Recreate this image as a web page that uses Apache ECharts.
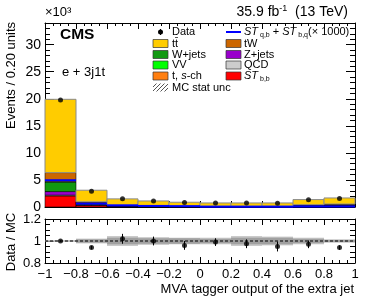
<!DOCTYPE html>
<html><head><meta charset="utf-8">
<script src="https://cdn.jsdelivr.net/npm/echarts@6/dist/echarts.min.js"></script>
<style>html,body{margin:0;padding:0;background:#fff}#c{width:374px;height:307px}</style>
</head><body><div id="c"></div>
<script>
// ---- data (values in units of 10^3 events) ----
const binEdges = [-1, -0.8, -0.6, -0.4, -0.2, 0, 0.2, 0.4, 0.6, 0.8, 1];
const stBB   = [2.05, 0.30, 0.12, 0.08, 0.06, 0.05, 0.05, 0.06, 0.20, 0.30];
const qcd    = [0.15, 0.05, 0.02, 0.02, 0.02, 0.02, 0.02, 0.02, 0.03, 0.03];
const zjets  = [0.65, 0.10, 0.04, 0.03, 0.02, 0.02, 0.02, 0.02, 0.04, 0.05];
const wjets  = [1.75, 0.30, 0.10, 0.06, 0.05, 0.04, 0.04, 0.04, 0.06, 0.08];
const vv     = [0.10, 0.02, 0.01, 0.01, 0.01, 0.01, 0.01, 0.01, 0.01, 0.01];
const tsch   = [0.25, 0.04, 0.02, 0.01, 0.01, 0.01, 0.01, 0.01, 0.02, 0.02];
const tw     = [1.40, 0.15, 0.06, 0.05, 0.04, 0.03, 0.03, 0.03, 0.05, 0.06];
const ttbar  = [13.55, 2.14, 1.13, 0.86, 0.67, 0.57, 0.57, 0.56, 0.96, 1.12];
const signal = [4.94, 0.62, 0.30, 0.20, 0.15, 0.05, 0.05, 0.05, 0.10, 0.10];
const dataVals = [19.75, 2.91, 1.53, 1.12, 0.845, 0.74, 0.73, 0.71, 1.33, 1.57];
const ratioVals = [1.00, 0.94, 1.02, 1.00, 0.96, 0.99, 0.975, 0.95, 0.97, 0.94];
const ratioErr  = [0.006, 0.015, 0.045, 0.04, 0.04, 0.035, 0.04, 0.045, 0.035, 0.02];
const bandOuter = [0.006, 0.022, 0.045, 0.035, 0.03, 0.03, 0.045, 0.04, 0.03, 0.015];
const bandInner = [0.004, 0.015, 0.030, 0.025, 0.025, 0.02, 0.03, 0.03, 0.02, 0.01];
const mainYTicks = [0, 5, 10, 15, 20, 25, 30];

const FONT = 'Liberation Sans, Arial, Helvetica, sans-serif';
const comps = [
  {name: 'ST_bb', vals: stBB, color: '#ff0000'},
  {name: 'QCD', vals: qcd, color: '#cccccc'},
  {name: 'Z+jets', vals: zjets, color: '#9900cc'},
  {name: 'W+jets', vals: wjets, color: '#119911'},
  {name: 'VV', vals: vv, color: '#00ff00'},
  {name: 't s-ch', vals: tsch, color: '#ff7f10'},
  {name: 'tW', vals: tw, color: '#cc6600'},
  {name: 'ttbar', vals: ttbar, color: '#ffcc00'}
];

const nb = binEdges.length - 1;
const centers = [];
for (let i = 0; i < nb; i++) centers.push((binEdges[i] + binEdges[i + 1]) / 2);

function rectRender(stroke) {
  return function (params, api) {
    const p0 = api.coord([api.value(0), api.value(3)]);
    const p1 = api.coord([api.value(1), api.value(2)]);
    return {type: 'rect', shape: {x: p0[0], y: p0[1], width: p1[0] - p0[0], height: p1[1] - p0[1]},
      style: {fill: api.visual('color'), stroke: stroke, lineWidth: stroke ? 1 : 0}};
  };
}

const series = [];
const cum = new Array(nb).fill(0);
comps.forEach(c => {
  const d = [];
  for (let i = 0; i < nb; i++) {
    d.push([binEdges[i], binEdges[i + 1], cum[i], cum[i] + c.vals[i]]);
    cum[i] += c.vals[i];
  }
  series.push({type: 'custom', xAxisIndex: 0, yAxisIndex: 0, data: d, encode: {x: [0, 1], y: [2, 3]},
    itemStyle: {color: c.color}, renderItem: rectRender(c.name === 'ttbar' ? '#8a8a8a' : 'rgba(0,0,0,0.55)'),
    silent: true, z: 2});
});

// signal line (step segments)
series.push({type: 'custom', xAxisIndex: 0, yAxisIndex: 0,
  data: signal.map((v, i) => [binEdges[i], binEdges[i + 1], v]), encode: {x: [0, 1], y: 2},
  renderItem: function (params, api) {
    const a = api.coord([api.value(0), api.value(2)]);
    const b = api.coord([api.value(1), api.value(2)]);
    return {type: 'line', shape: {x1: a[0], y1: a[1], x2: b[0], y2: b[1]}, style: {stroke: '#0000ff', lineWidth: 2}};
  }, z: 3, silent: true});

// data points main
series.push({type: 'scatter', xAxisIndex: 0, yAxisIndex: 0, data: dataVals.map((v, i) => [centers[i], v]),
  symbol: 'circle', symbolSize: 5, itemStyle: {color: '#000'}, z: 5, silent: true});

// ratio bands
function bandSeries(vals, color) {
  return {type: 'custom', xAxisIndex: 2, yAxisIndex: 2,
    data: vals.map((v, i) => [binEdges[i], binEdges[i + 1], 1 - v, 1 + v]), encode: {x: [0, 1], y: [2, 3]},
    itemStyle: {color: color}, renderItem: rectRender(null), z: 2, silent: true};
}
series.push(bandSeries(bandOuter, '#c8c8c8'));
series.push(bandSeries(bandInner, '#a0a0a0'));
// dashed line at 1
series.push({type: 'custom', xAxisIndex: 2, yAxisIndex: 2, data: [[binEdges[0], binEdges[nb], 1]],
  encode: {x: [0, 1], y: 2},
  renderItem: function (params, api) {
    const a = api.coord([api.value(0), api.value(2)]);
    const b = api.coord([api.value(1), api.value(2)]);
    return {type: 'line', shape: {x1: a[0], y1: a[1], x2: b[0], y2: b[1]}, style: {stroke: '#000', lineWidth: 1, lineDash: [3, 2]}};
  }, z: 3, silent: true});
// ratio error bars
series.push({type: 'custom', xAxisIndex: 2, yAxisIndex: 2,
  data: ratioVals.map((v, i) => [centers[i], v - ratioErr[i], v + ratioErr[i]]), encode: {x: 0, y: [1, 2]},
  renderItem: function (params, api) {
    const a = api.coord([api.value(0), api.value(1)]);
    const b = api.coord([api.value(0), api.value(2)]);
    return {type: 'line', shape: {x1: a[0], y1: a[1], x2: b[0], y2: b[1]}, style: {stroke: '#000', lineWidth: 1}};
  }, z: 4, silent: true});
series.push({type: 'scatter', xAxisIndex: 2, yAxisIndex: 2, data: ratioVals.map((v, i) => [centers[i], v]),
  symbol: 'circle', symbolSize: 5, itemStyle: {color: '#000'}, z: 5, silent: true});

function xAx(grid, pos, labels, majLen, minLen) {
  return {type: 'value', gridIndex: grid, position: pos, min: -1, max: 1, interval: 0.2,
    axisLine: {show: true, onZero: false, lineStyle: {color: '#000', width: 1}},
    axisTick: {show: true, inside: true, length: majLen, lineStyle: {color: '#000'}},
    minorTick: {show: true, splitNumber: 4, length: minLen, lineStyle: {color: '#000'}},
    splitLine: {show: false},
    axisLabel: labels ? {show: true, fontSize: 13, fontFamily: FONT, color: '#000', margin: 5,
      formatter: v => { const r = Math.round(v * 10) / 10; if (r === 0) return '0'; return (r < 0 ? '\u2212' : '') + String(Math.abs(r)); }} : {show: false}};
}
function yAx(grid, pos, min, max, interval, labels, majLen, fmt, minorSplit, minLen, showLine) {
  return {type: 'value', gridIndex: grid, position: pos, min: min, max: max, interval: interval,
    axisLine: {show: showLine !== false, onZero: false, lineStyle: {color: '#000', width: 1}},
    axisTick: {show: true, inside: true, length: majLen, lineStyle: {color: '#000'}},
    minorTick: {show: minorSplit > 0, splitNumber: minorSplit || 5, length: minLen || 4, lineStyle: {color: '#000'}},
    splitLine: {show: false},
    axisLabel: labels ? {show: true, fontSize: 14, fontFamily: FONT, color: '#000', margin: 4, formatter: fmt} : {show: false}};
}
const mainFmt = v => (mainYTicks.indexOf(Math.round(v)) >= 0 && Math.abs(v - Math.round(v)) < 1e-6) ? String(Math.round(v)) : '';
const ratioFmt = v => { const r = Math.round(v * 10) / 10; return Math.abs(r - 1) < 1e-6 ? '1' : r.toFixed(1); };

const yAxes = [
  yAx(0, 'left', 0, 34, 5, true, 9, mainFmt, 0),
  yAx(0, 'right', 0, 34, 5, false, 9, null, 0),
  yAx(1, 'left', 0.8, 1.2, 0.2, true, 9, ratioFmt, 4, 5),
  yAx(1, 'right', 0.8, 1.2, 0.2, false, 9, null, 4, 5),
  // minor ticks main panel
  yAx(0, 'left', 0, 34, 1, false, 5, null, 0, 0, false),
  yAx(0, 'right', 0, 34, 1, false, 5, null, 0, 0, false)
];
yAxes[2].axisLabel.fontSize = 13;

// hatched pattern
const hc = document.createElement('canvas'); hc.width = 4; hc.height = 4;
const hg = hc.getContext('2d'); hg.fillStyle = '#fff'; hg.fillRect(0, 0, 4, 4);
hg.strokeStyle = '#555'; hg.lineWidth = 1; hg.beginPath(); hg.moveTo(0, 4); hg.lineTo(4, 0); hg.moveTo(-1, 1); hg.lineTo(1, -1); hg.moveTo(3, 5); hg.lineTo(5, 3); hg.stroke();

const lf = 11;
const rich = {
  i: {fontStyle: 'italic', fontSize: lf, fontFamily: FONT, color: '#000'},
  n: {fontSize: lf, fontFamily: FONT, color: '#000'},
  sub: {fontSize: 7, fontFamily: FONT, color: '#000', padding: [6, 0, 0, 0]}
};
function ltext(x, y, t) {
  return {type: 'text', x: x, y: y, style: {text: t, rich: rich, font: lf + 'px ' + FONT, fill: '#000', verticalAlign: 'middle', align: 'left'}};
}
function lbox(x, y, color) {
  return {type: 'rect', shape: {x: x, y: y - 4, width: 15, height: 8}, style: {fill: color, stroke: '#333', lineWidth: 0.7}};
}
const c1x = 153, c1t = 172, c2x = 226, c2t = 244;
const rows = [32, 43.5, 54.5, 65, 76, 87.5];
const graphics = [
  {type: 'text', x: 45, y: 12, style: {text: '\u00d710\u00b3', font: '13px ' + FONT, fill: '#000', verticalAlign: 'middle'}},
  {type: 'text', x: 348, y: 12, style: {text: '{n|35.9 fb}{sup|-1}{n|  (13 TeV)}', rich: {n: {fontSize: 14, fontFamily: FONT, color: '#000'}, sup: {fontSize: 9, fontFamily: FONT, color: '#000', padding: [0, 0, 7, 0]}}, align: 'right', verticalAlign: 'middle'}},
  {type: 'text', x: 60, y: 35, style: {text: 'CMS', font: 'bold 15.5px ' + FONT, fill: '#000', verticalAlign: 'middle'}},
  {type: 'text', x: 62, y: 72, style: {text: 'e + 3j1t', font: '13px ' + FONT, fill: '#000', verticalAlign: 'middle'}},
  {type: 'text', x: 11, y: 22, rotation: Math.PI / 2, style: {text: 'Events / 0.20 units', font: '13px ' + FONT, fill: '#000', align: 'right', verticalAlign: 'middle'}},
  {type: 'text', x: 11, y: 242, rotation: Math.PI / 2, style: {text: 'Data / MC', font: '13px ' + FONT, fill: '#000', align: 'center', verticalAlign: 'middle'}},
  {type: 'text', x: 354, y: 289, style: {text: 'MVA tagger output of the extra jet', font: '13px ' + FONT, fill: '#000', align: 'right', verticalAlign: 'middle'}},
  // legend column 1
  {type: 'circle', shape: {cx: c1x + 7.5, cy: rows[0], r: 2.5}, style: {fill: '#000'}},
  {type: 'line', shape: {x1: c1x + 7.5, y1: rows[0] - 3, x2: c1x + 7.5, y2: rows[0] + 3}, style: {stroke: '#000', lineWidth: 1}},
  ltext(c1t, rows[0], '{n|Data}'),
  lbox(c1x, rows[1], '#ffcc00'), ltext(c1t, rows[1], '{n|tt\u0304}'),
  lbox(c1x, rows[2], '#119911'), ltext(c1t, rows[2], '{n|W+jets}'),
  lbox(c1x, rows[3], '#00ff00'), ltext(c1t, rows[3], '{n|VV}'),
  lbox(c1x, rows[4], '#ff7f10'), ltext(c1t, rows[4], '{n|t, }{i|s}{n|-ch}'),
  {type: 'rect', shape: {x: c1x, y: rows[5] - 4, width: 15, height: 8}, style: {fill: {image: hc, repeat: 'repeat'}}},
  ltext(c1t, rows[5], '{n|MC stat unc}'),
  // legend column 2
  {type: 'line', shape: {x1: c2x, y1: rows[0], x2: c2x + 15, y2: rows[0]}, style: {stroke: '#0000ff', lineWidth: 2}},
  ltext(c2t, rows[0], '{i|ST}{sub| q,b}{n| + }{i|ST}{sub| b,q}{n|(\u00d7 1000)}'),
  lbox(c2x, rows[1], '#cc6600'), ltext(c2t, rows[1], '{n|tW}'),
  lbox(c2x, rows[2], '#9900cc'), ltext(c2t, rows[2], '{n|Z+jets}'),
  lbox(c2x, rows[3], '#cccccc'), ltext(c2t, rows[3], '{n|QCD}'),
  lbox(c2x, rows[4], '#ff0000'), ltext(c2t, rows[4], '{i|ST}{sub| b,b}')
];

const chart = echarts.init(document.getElementById('c'), null, {renderer: 'canvas'});
chart.setOption({
  animation: false,
  backgroundColor: '#fff',
  textStyle: {fontFamily: FONT},
  grid: [
    {left: 45, top: 23, width: 310, height: 184},
    {left: 45, top: 219, width: 310, height: 44}
  ],
  xAxis: [xAx(0, 'bottom', false, 6, 3), xAx(0, 'top', false, 6, 3), xAx(1, 'bottom', true, 6, 3), xAx(1, 'top', false, 6, 3)],
  yAxis: yAxes,
  series: series,
  graphic: graphics
});
</script>
</body></html>
